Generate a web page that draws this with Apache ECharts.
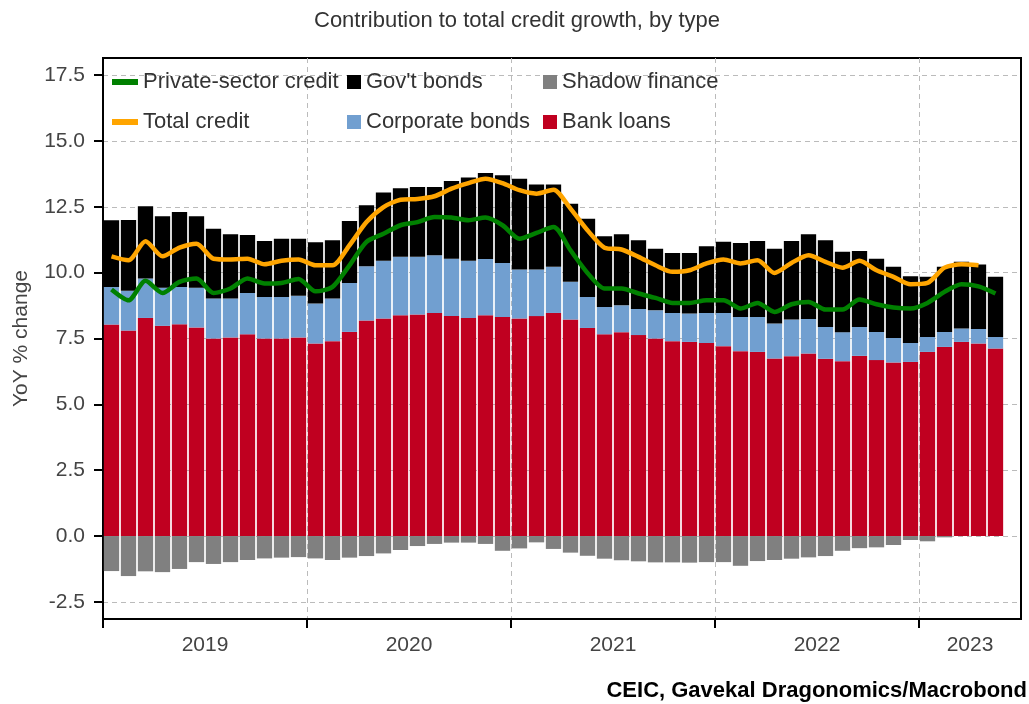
<!DOCTYPE html>
<html>
<head>
<meta charset="utf-8">
<script src="https://cdn.jsdelivr.net/npm/echarts@6/dist/echarts.min.js"></script>
<style>
  html, body { margin: 0; padding: 0; background: #fff; }
  #chart { width: 1029px; height: 704px; }
</style>
</head>
<body>
<div id="chart"></div>
<script>
// months Jan 2019 .. Jun 2023 (last slot empty)
const months = [
  '2019-01','2019-02','2019-03','2019-04','2019-05','2019-06','2019-07','2019-08','2019-09','2019-10','2019-11','2019-12',
  '2020-01','2020-02','2020-03','2020-04','2020-05','2020-06','2020-07','2020-08','2020-09','2020-10','2020-11','2020-12',
  '2021-01','2021-02','2021-03','2021-04','2021-05','2021-06','2021-07','2021-08','2021-09','2021-10','2021-11','2021-12',
  '2022-01','2022-02','2022-03','2022-04','2022-05','2022-06','2022-07','2022-08','2022-09','2022-10','2022-11','2022-12',
  '2023-01','2023-02','2023-03','2023-04','2023-05','2023-06'
];
const years = ['2019', '2020', '2021', '2022', '2023'];
const yTicks = [-2.5, 0, 2.5, 5, 7.5, 10, 12.5, 15, 17.5];

const bankLoans = [
  8.03, 7.80, 8.28, 7.98, 8.04, 7.92, 7.50, 7.54, 7.66, 7.50, 7.50, 7.54,
  7.31, 7.40, 7.75, 8.18, 8.26, 8.38, 8.41, 8.47, 8.35, 8.28, 8.38, 8.32,
  8.26, 8.35, 8.47, 8.22, 7.90, 7.66, 7.74, 7.63, 7.50, 7.40, 7.37, 7.33,
  7.21, 7.02, 6.99, 6.74, 6.83, 6.93, 6.73, 6.64, 6.84, 6.68, 6.59, 6.61,
  6.99, 7.18, 7.37, 7.31, 7.12
];
const corpBonds = [
  1.43, 1.51, 1.50, 1.45, 1.42, 1.51, 1.52, 1.48, 1.57, 1.58, 1.58, 1.58,
  1.52, 1.62, 1.86, 2.06, 2.19, 2.22, 2.19, 2.19, 2.18, 2.17, 2.14, 2.05,
  1.86, 1.77, 1.75, 1.43, 1.18, 1.04, 1.02, 0.99, 1.07, 1.07, 1.08, 1.14,
  1.26, 1.30, 1.33, 1.33, 1.39, 1.31, 1.21, 1.10, 1.10, 1.07, 0.93, 0.72,
  0.57, 0.57, 0.51, 0.55, 0.44
];
const govBonds = [
  2.53, 2.69, 2.74, 2.71, 2.84, 2.71, 2.65, 2.44, 2.20, 2.12, 2.21, 2.17,
  2.32, 2.21, 2.35, 2.32, 2.59, 2.60, 2.65, 2.59, 2.95, 3.16, 3.26, 3.33,
  3.45, 3.23, 3.13, 2.97, 2.97, 2.68, 2.70, 2.61, 2.34, 2.28, 2.30, 2.53,
  2.70, 2.81, 2.88, 2.84, 2.98, 3.22, 3.29, 3.05, 2.88, 2.78, 2.70, 2.53,
  2.28, 2.47, 2.53, 2.45, 2.28
];
const shadowFinance = [
  -1.33, -1.52, -1.34, -1.37, -1.25, -0.99, -1.06, -0.99, -0.91, -0.85, -0.82, -0.80,
  -0.85, -0.91, -0.82, -0.76, -0.66, -0.53, -0.38, -0.30, -0.25, -0.25, -0.30, -0.56,
  -0.47, -0.24, -0.49, -0.63, -0.75, -0.86, -0.92, -0.96, -1.00, -1.00, -1.01, -0.99,
  -0.99, -1.13, -0.95, -0.91, -0.86, -0.81, -0.76, -0.56, -0.46, -0.43, -0.34, -0.15,
  -0.20, -0.05, 0, 0, 0
];
const totalCredit = [
  10.62, 10.47, 11.19, 10.62, 10.95, 11.10, 10.53, 10.50, 10.53, 10.32, 10.45, 10.50,
  10.28, 10.28, 11.04, 11.92, 12.49, 12.77, 12.80, 12.90, 13.19, 13.40, 13.57, 13.40,
  13.13, 13.00, 13.15, 12.43, 11.61, 10.95, 10.88, 10.60, 10.28, 10.03, 10.09, 10.35,
  10.50, 10.35, 10.47, 9.99, 10.37, 10.66, 10.41, 10.19, 10.45, 10.09, 9.84, 9.56,
  9.61, 10.19, 10.32, 10.28
];
const privateCredit = [
  9.36, 8.95, 9.69, 9.23, 9.65, 9.78, 9.23, 9.40, 9.78, 9.59, 9.61, 9.76,
  9.29, 9.46, 10.28, 11.17, 11.48, 11.80, 11.92, 12.11, 12.09, 11.99, 12.09, 11.80,
  11.29, 11.51, 11.73, 10.85, 9.99, 9.40, 9.40, 9.21, 9.04, 8.85, 8.85, 8.95,
  8.95, 8.64, 8.85, 8.51, 8.80, 8.89, 8.60, 8.60, 8.98, 8.80, 8.68, 8.64,
  8.85, 9.27, 9.56, 9.48, 9.21
];

const font = 'Liberation Sans, Arial, sans-serif';
const yearTicks = years.map((y, i) => i * 12);
const yearCenters = years.map((y, i) => (i * 12 + Math.min(i * 12 + 12, months.length)) / 2);
const gridDash = { color: '#bbb', type: [5, 4], width: 1 };

const chart = echarts.init(document.getElementById('chart'));

const legendText = { fontFamily: font, fontSize: 22, color: '#333', lineHeight: 22 };

chart.setOption({
  animation: false,
  title: [
    {
      text: 'Contribution to total credit growth, by type',
      left: 314, top: 10, padding: 0,
      textStyle: { fontFamily: font, fontSize: 22, fontWeight: 'normal', color: '#333' }
    },
    {
      text: 'CEIC, Gavekal Dragonomics/Macrobond',
      right: 2, top: 680, padding: 0,
      textStyle: { fontFamily: font, fontSize: 22, fontWeight: 'bold', color: '#000' }
    }
  ],
  legend: [
    {
      orient: 'vertical', left: 112, top: 71, padding: 0, itemGap: 18,
      icon: 'rect', itemWidth: 26, itemHeight: 6,
      data: ['Private-sector credit', 'Total credit'],
      textStyle: legendText
    },
    {
      orient: 'vertical', left: 347, top: 71, padding: 0, itemGap: 18,
      icon: 'rect', itemWidth: 14, itemHeight: 14,
      data: ["Gov't bonds", 'Corporate bonds'],
      textStyle: legendText
    },
    {
      orient: 'vertical', left: 543, top: 71, padding: 0, itemGap: 18,
      icon: 'rect', itemWidth: 14, itemHeight: 14,
      data: ['Shadow finance', 'Bank loans'],
      textStyle: legendText
    }
  ],
  grid: {
    left: 103, right: 8, top: 58, bottom: 85,
    show: true, borderColor: '#000', borderWidth: 2
  },
  xAxis: [
    {
      type: 'category', data: months, show: false
    },
    {
      type: 'value', min: 0, max: months.length, position: 'bottom',
      axisLine: { show: true, lineStyle: { color: '#000', width: 2 } },
      axisTick: { show: true, customValues: yearTicks, length: 9, lineStyle: { color: '#000', width: 2 } },
      axisLabel: {
        customValues: yearCenters, margin: 16,
        formatter: v => years[Math.floor(v / 12)],
        fontFamily: font, fontSize: 21, color: '#444'
      },
      splitLine: { show: true, lineStyle: gridDash }
    }
  ],
  yAxis: {
    type: 'value', min: -3.15, max: 18.15,
    name: 'YoY % change', nameLocation: 'middle', nameGap: 71,
    nameTextStyle: { fontFamily: font, fontSize: 21, color: '#444' },
    axisLine: { show: true, lineStyle: { color: '#000', width: 2 } },
    axisTick: { show: true, customValues: yTicks, length: 9, lineStyle: { color: '#000', width: 2 } },
    axisLabel: {
      customValues: yTicks, margin: 18,
      formatter: v => v.toFixed(1),
      fontFamily: font, fontSize: 21, color: '#444'
    },
    splitLine: { show: true, lineStyle: gridDash }
  },
  series: [
    {
      name: 'Bank loans', type: 'bar', stack: 'credit', xAxisIndex: 0,
      data: bankLoans, barCategoryGap: '10%',
      itemStyle: { color: '#c00020' }
    },
    {
      name: 'Corporate bonds', type: 'bar', stack: 'credit', xAxisIndex: 0,
      data: corpBonds, barCategoryGap: '10%',
      itemStyle: { color: '#719fd0' }
    },
    {
      name: "Gov't bonds", type: 'bar', stack: 'credit', xAxisIndex: 0,
      data: govBonds, barCategoryGap: '10%',
      itemStyle: { color: '#000' }
    },
    {
      name: 'Shadow finance', type: 'bar', stack: 'credit', xAxisIndex: 0,
      data: shadowFinance, barCategoryGap: '10%',
      itemStyle: { color: '#808080' }
    },
    {
      name: 'Total credit', type: 'line', xAxisIndex: 0,
      data: totalCredit, smooth: 0.25, symbol: 'none', z: 5,
      lineStyle: { color: '#ffa500', width: 4.5 },
      itemStyle: { color: '#ffa500' }
    },
    {
      name: 'Private-sector credit', type: 'line', xAxisIndex: 0,
      data: privateCredit, smooth: 0.25, symbol: 'none', z: 6,
      lineStyle: { color: '#008000', width: 4.5 },
      itemStyle: { color: '#008000' }
    }
  ]
});
</script>
</body>
</html>
